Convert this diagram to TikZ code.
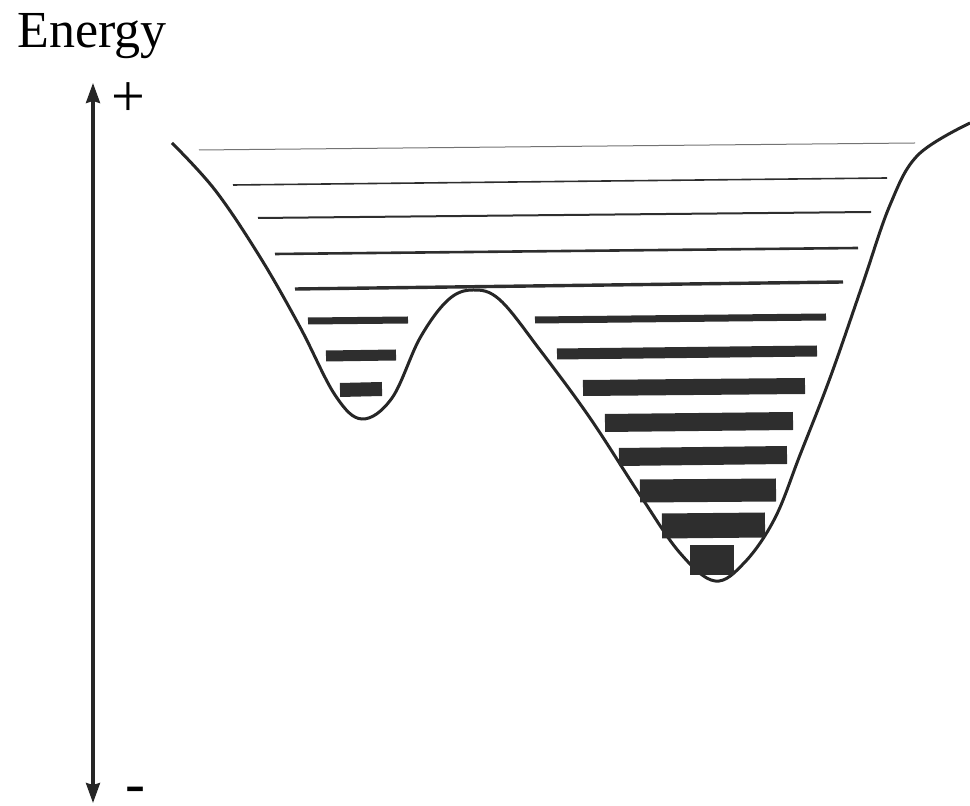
\documentclass[tikz,border=0pt]{standalone}
\usepackage{fontspec}
\setmainfont{Liberation Serif}
\usetikzlibrary{arrows.meta}
\begin{document}
\begin{tikzpicture}[x=0.5pt,y=-0.5pt,
  curve/.style={line width=1.5pt,black!85},
  axis/.style={line width=1.6pt,black!85,{Stealth[length=10pt,width=7pt,inset=1pt]}-{Stealth[length=10pt,width=7pt,inset=1pt]}},
  lvl/.style={line cap=butt,black!82},
  lbl/.style={inner sep=0pt,font=\fontsize{30}{30}\selectfont}]
\useasboundingbox (0,0) rectangle (970,806);
% label and axis
\node[inner sep=0pt,anchor=base west,font=\fontsize{26}{26}\selectfont] (energy) at (17,48) {Energy};
\coordinate (atop) at (93,83);
\coordinate (abot) at (93,803);
\draw[axis] (atop) -- (abot);
\node[lbl] (plus) at (128,100) {+};
\node[lbl] (minus) at (135,795) {-};
% potential curve
\draw[curve] plot[smooth,tension=0.6] coordinates {
 (172,143) (215,190) (260,257) (300,327) (335,395) (362,419) (392,398)
 (420,338) (448,300) (473,290) (500,300) (540,350) (590,418) (640,495)
 (680,553) (715,581) (745,562) (775,518) (800,455) (830,378) (862,286)
 (890,205) (918,155) (970,123)};
% upper levels (thin lines spanning both wells)
\draw[lvl,line width=0.5pt,black!55] (199,150) -- (915,143);
\draw[lvl,line width=0.8pt] (233,185) -- (887,178);
\draw[lvl,line width=1.0pt] (258,218) -- (871,212);
\draw[lvl,line width=1.3pt] (275,254) -- (858,248);
\draw[lvl,line width=1.7pt] (295,289) -- (843,282);
% left well levels
\draw[lvl,line width=3.5pt] (308,321) -- (408,320);
\draw[lvl,line width=5.5pt] (326,356) -- (396,355);
\draw[lvl,line width=7pt] (340,390) -- (382,389);
% right well levels
\draw[lvl,line width=3.5pt] (535,320) -- (826,317);
\draw[lvl,line width=5.5pt] (557,354) -- (817,351);
\draw[lvl,line width=8pt] (583,388) -- (805,386);
\draw[lvl,line width=9pt] (605,423) -- (793,421);
\draw[lvl,line width=9pt] (619,457) -- (787,455);
\draw[lvl,line width=11.5pt] (640,491) -- (776,490);
\draw[lvl,line width=12.5pt] (662,526) -- (765,525);
\draw[lvl,line width=15pt] (690,560) -- (734,560);
\end{tikzpicture}
\end{document}
